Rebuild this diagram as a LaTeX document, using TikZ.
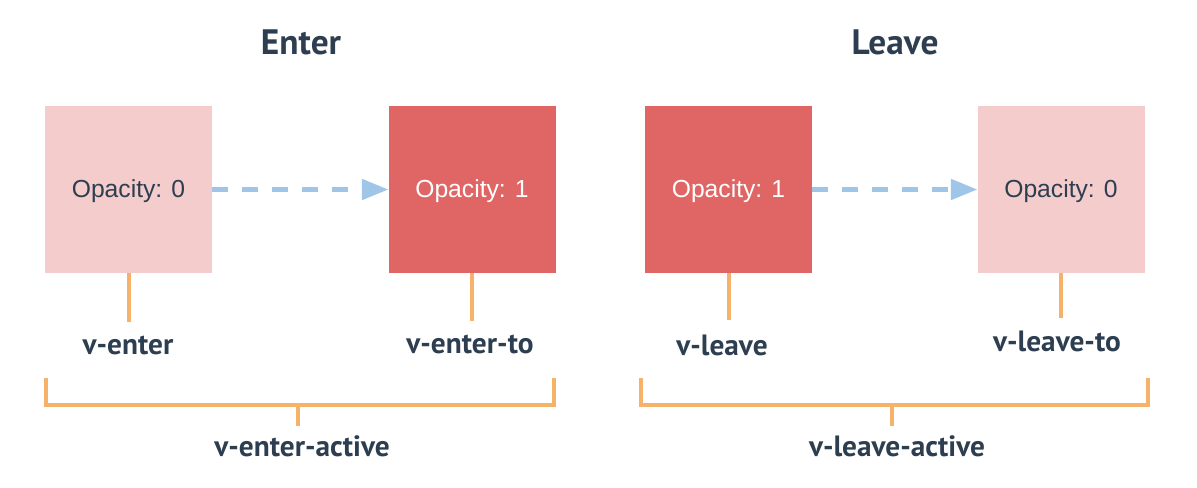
\documentclass[tikz,border=0pt]{standalone}
\usepackage{fontspec}
\setmainfont{Liberation Sans}
\newfontfamily\lblfont{PT Sans}
\usetikzlibrary{arrows.meta}
\definecolor{pinklt}{HTML}{F4CCCC}
\definecolor{redbox}{HTML}{E06666}
\definecolor{darktxt}{HTML}{2C3E50}
\definecolor{orng}{HTML}{F6B26B}
\definecolor{bluearr}{HTML}{9FC5E8}
\tikzset{
  box/.style={minimum width=125.25pt, minimum height=125.25pt, inner sep=0pt, outer sep=0pt},
  lightbox/.style={box, fill=pinklt, text=darktxt, font=\fontsize{18.5}{21}\selectfont},
  darkbox/.style={box, fill=redbox, text=white, font=\fontsize{18.5}{21}\selectfont},
  flow/.style={draw=bluearr, line width=3.75pt, dash pattern=on 12pt off 10.5pt, -{Triangle[length=20pt, width=15pt]}},
  tick/.style={draw=orng, line width=3pt},
  lbl/.style={text=darktxt, font=\lblfont\bfseries\fontsize{22}{24}\selectfont, inner sep=0pt},
  ttl/.style={text=darktxt, font=\lblfont\bfseries\fontsize{26.5}{30}\selectfont, inner sep=0pt}
}
\begin{document}
\begin{tikzpicture}[x=0.75pt, y=-0.75pt]
\useasboundingbox (0,0) rectangle (1197,487);
% titles
\node[ttl] (tenter) at (301,42) {Enter};
\node[ttl] (tleave) at (895,42) {Leave};
% boxes
\node[lightbox] (b1) at (128.5,189.5) {};
\node[darkbox]  (b2) at (472,189.5) {};
\node[darkbox]  (b3) at (728.5,189.5) {};
\node[lightbox] (b4) at (1061,189.5) {};
\node[text=darktxt, font=\fontsize{18.5}{21}\selectfont] (o1) at (128.5,191) {Opacity: 0};
\node[text=white, font=\fontsize{18.5}{21}\selectfont] (o2) at (472,191) {Opacity: 1};
\node[text=white, font=\fontsize{18.5}{21}\selectfont] (o3) at (728.5,191) {Opacity: 1};
\node[text=darktxt, font=\fontsize{18.5}{21}\selectfont] (o4) at (1061,191) {Opacity: 0};
% arrows
\draw[flow] (b1.east) -- (b2.west);
\draw[flow] (b3.east) -- (b4.west);
% ticks and labels
\coordinate (t1) at (128.5,322);
\coordinate (t2) at (472,321);
\coordinate (t3) at (728.5,320);
\coordinate (t4) at (1061,318);
\draw[tick] (b1.south) -- (t1);
\draw[tick] (b2.south) -- (t2);
\draw[tick] (b3.south) -- (t3);
\draw[tick] (b4.south) -- (t4);
\node[lbl] (l1) at (128,345) {v-enter};
\node[lbl] (l2) at (470,344) {v-enter-to};
\node[lbl] (l3) at (722,345) {v-leave};
\node[lbl] (l4) at (1057,341) {v-leave-to};
% brackets
\coordinate (ea) at (46,378);
\coordinate (eb) at (46,405);
\coordinate (ec) at (554,405);
\coordinate (ed) at (554,378);
\coordinate (em) at (298,405);
\coordinate (en) at (298,426);
\draw[tick] (ea) -- (eb) -- (ec) -- (ed);
\draw[tick] (em) -- (en);
\node[lbl] (la) at (302,446) {v-enter-active};
\coordinate (la1) at (641,378);
\coordinate (lb1) at (641,405);
\coordinate (lc1) at (1148,405);
\coordinate (ld1) at (1148,378);
\coordinate (lm1) at (892,405);
\coordinate (ln1) at (892,426);
\draw[tick] (la1) -- (lb1) -- (lc1) -- (ld1);
\draw[tick] (lm1) -- (ln1);
\node[lbl] (lb) at (897,446) {v-leave-active};
\end{tikzpicture}
\end{document}
